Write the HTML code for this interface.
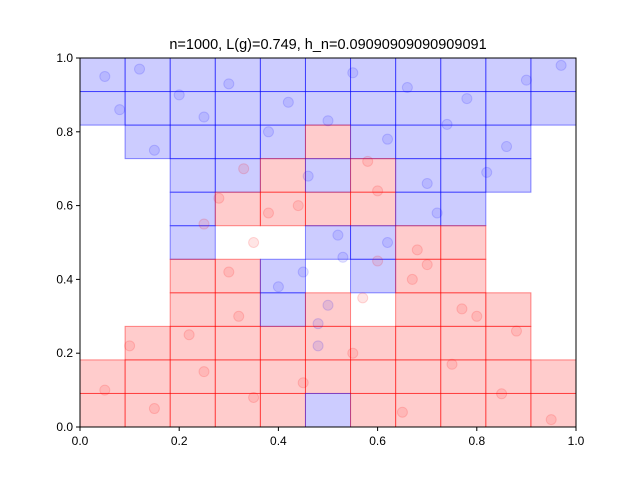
<!DOCTYPE html>
<html><head><meta charset="utf-8"><style>
body{margin:0;background:#fff}
svg{display:block;font-family:"Liberation Sans",sans-serif}
</style></head><body>
<svg id="c" width="640" height="480"></svg>
<script>
const gridRows = [ // top row (y 0.909-1) first; B=blue, R=red, .=none
"BBBBBBBBBBB",
"BBBBBBBBBBB",
".BBBBRBBBB.",
"..BBRBRBBB.",
"..BRRRRBB..",
"..B..BBRR..",
"..RRB.BRR..",
"..RRBR.RRR.",
".RRRRRRRRR.",
"RRRRRRRRRRR",
"RRRRRBRRRRR"];
const xTicks=[0,0.2,0.4,0.6,0.8,1.0];
const yTicks=[0,0.2,0.4,0.6,0.8,1.0];
const ptsX=[0.05,0.12,0.2,0.3,0.42,0.55,0.66,0.78,0.9,0.97,0.08,0.25,0.38,0.5,0.62,0.74,0.86,0.15,0.33,0.46,0.58,0.7,0.82,0.28,0.44,0.6,0.72,0.35,0.52,0.68,0.05,0.15,0.25,0.35,0.45,0.55,0.65,0.75,0.85,0.95,0.1,0.22,0.32,0.48,0.57,0.67,0.77,0.88,0.3,0.4,0.5,0.6,0.7,0.8,0.25,0.45,0.62,0.38,0.53,0.48];
const ptsY=[0.95,0.97,0.9,0.93,0.88,0.96,0.92,0.89,0.94,0.98,0.86,0.84,0.8,0.83,0.78,0.82,0.76,0.75,0.7,0.68,0.72,0.66,0.69,0.62,0.6,0.64,0.58,0.5,0.52,0.48,0.1,0.05,0.15,0.08,0.12,0.2,0.04,0.17,0.09,0.02,0.22,0.25,0.3,0.28,0.35,0.4,0.32,0.26,0.42,0.38,0.33,0.45,0.44,0.3,0.55,0.42,0.5,0.58,0.46,0.22];
const ptsC=["B","B","B","B","B","B","B","B","B","B","B","B","B","B","B","B","B","B","R","B","R","B","B","R","R","R","B","R","B","R","R","R","R","R","R","R","R","R","R","R","R","R","R","B","R","R","R","R","R","B","B","R","R","R","R","B","B","R","B","B"];
const svg=document.getElementById('c'),NS='http://www.w3.org/2000/svg';
const L=80,R=576,T=58,B=427;
const sx=v=>L+v*(R-L), sy=v=>B-v*(B-T);
function mk(t,a,p){const e=document.createElementNS(NS,t);for(const k in a)e.setAttribute(k,a[k]);(p||svg).appendChild(e);return e;}
const h=1/11;
gridRows.forEach((row,ri)=>{[...row].forEach((c,ci)=>{
 if(c==='.')return;
 const y1=1-ri*h, x0=ci*h;
 const col=c==='B'?'0,0,255':'255,0,0';
 const r=mk('rect',{x:sx(x0),y:sy(y1),width:sx(x0+h)-sx(x0),height:sy(y1-h)-sy(y1),fill:`rgba(${col},0.2)`,stroke:`rgba(${col},0.45)`,'stroke-width':1});
 
 
});});
ptsX.forEach((x,i)=>{
 const col=ptsC[i]==='B'?'0,0,255':'255,0,0';
 const p=mk('circle',{cx:sx(x),cy:sy(ptsY[i]),r:5,fill:`rgba(${col},0.1)`,stroke:`rgba(${col},0.15)`});
 
 
});
const f=mk('rect',{x:L,y:T,width:R-L,height:B-T,fill:'none',stroke:'#000','stroke-width':1});


xTicks.forEach(v=>{
 mk('line',{x1:sx(v),x2:sx(v),y1:B,y2:B+4,stroke:'#000'});
 const t=mk('text',{x:sx(v),y:B+18,'text-anchor':'middle','font-size':12});t.textContent=v.toFixed(1);
 
 
});
yTicks.forEach(v=>{
 mk('line',{x1:L-4,x2:L,y1:sy(v),y2:sy(v),stroke:'#000'});
 const t=mk('text',{x:L-7,y:sy(v)+4,'text-anchor':'end','font-size':12});t.textContent=v.toFixed(1);
 
 
});
const tt=mk('text',{x:328,y:49,'text-anchor':'middle','font-size':14.5});
tt.textContent='n=1000, L(g)=0.749, h_n=0.09090909090909091';


</script>
</body></html>
